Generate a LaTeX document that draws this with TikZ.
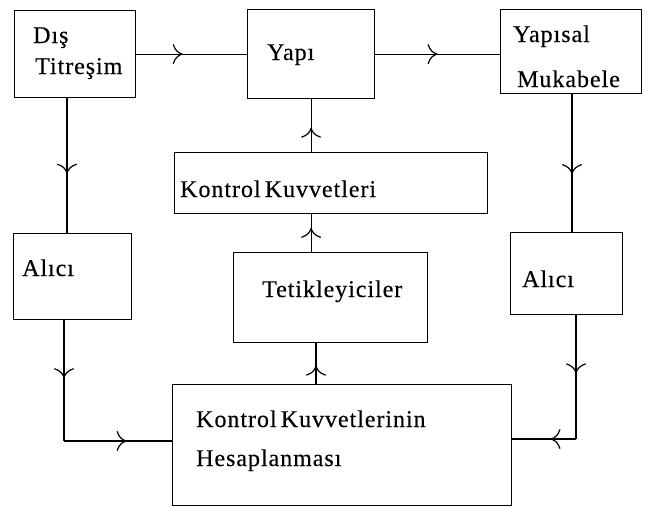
\documentclass[tikz,border=0pt]{standalone}
\usepackage{fontspec}
\setmainfont[LetterSpace=4,WordSpace=0.6,FakeBold=0.3]{Liberation Serif}
\usetikzlibrary{arrows.meta,decorations.markings,calc}
\begin{document}
\begin{tikzpicture}[x=1pt,y=-1pt,
  box/.style={draw,line width=1.2pt,inner sep=0pt,anchor=north west},
  lbl/.style={anchor=base west,inner sep=0pt,font=\fontsize{24}{28}\selectfont},
  conn/.style={line width=1.2pt},
  tipat/.style={postaction={decorate},decoration={markings,mark=at position #1 with {\arrow{To[length=10pt,width=20pt,line width=1.2pt]}}}}]
\useasboundingbox (0,0) rectangle (654,507);
% boxes
\node[box,minimum width=121pt,minimum height=87pt] (dis) at (14,10) {};
\node[box,minimum width=127pt,minimum height=89pt] (yapi) at (247,9) {};
\node[box,minimum width=141pt,minimum height=84pt] (ym) at (500,9) {};
\node[box,minimum width=313pt,minimum height=61pt] (kk) at (174,152) {};
\node[box,minimum width=118pt,minimum height=86pt] (al1) at (13,233) {};
\node[box,minimum width=194pt,minimum height=90pt] (tet) at (233,252) {};
\node[box,minimum width=339pt,minimum height=121pt] (hes) at (172,384) {};
\node[box,minimum width=112pt,minimum height=82pt] (al2) at (510,232) {};
% labels
\node[lbl] (t1) at (33,43) {Dış};
\node[lbl] (t2) at (35,74) {Titreşim};
\node[lbl] (t3) at (267,60) {Yapı};
\node[lbl] (t4) at (513,42) {Yapısal};
\node[lbl] (t5) at (517,87) {Mukabele};
\node[lbl] (t6) at (180,197) {Kontrol Kuvvetleri};
\node[lbl] (t7) at (22,276) {Alıcı};
\node[lbl] (t8) at (262,297) {Tetikleyiciler};
\node[lbl] (t9) at (196,427) {Kontrol Kuvvetlerinin};
\node[lbl] (t10) at (196,466) {Hesaplanması};
\node[lbl] (t11) at (522,287) {Alıcı};
% helper coordinates
\coordinate (c1) at ($(dis.south west)+(53,0)$);
\coordinate (c2) at ($(al1.south west)+(51,0)$);
\coordinate (c3) at (64,441);
\coordinate (c4) at ($(tet.south west)+(83,0)$);
\coordinate (c5) at ($(ym.south west)+(72,0)$);
\coordinate (c6) at ($(al2.south west)+(66,0)$);
\coordinate (c7) at (576,439);
% connectors
\draw[conn,tipat=0.42] (dis.east) -- (yapi.west);
\draw[conn,tipat=0.5] (yapi.east) -- (yapi.east -| ym.west);
\draw[conn,tipat=0.56] (c1) -- (c1 |- al1.north);
\draw[conn,tipat=0.48] (c2) -- (c3);
\draw[conn,tipat=0.58] (c3) -- (c3 -| hes.west);
\draw[conn,tipat=0.46] (kk.north -| yapi.south) -- (yapi.south);
\draw[conn,tipat=0.64] (tet.north -| yapi.south) -- (kk.south -| yapi.south);
\draw[conn,tipat=0.45] (c4 |- hes.north) -- (c4);
\draw[conn,tipat=0.58] (c5) -- (c5 |- al2.north);
\draw[conn,tipat=0.47] (c6) -- (c7);
\draw[conn,tipat=0.4] (c7) -- (c7 -| hes.east);
\end{tikzpicture}
\end{document}
